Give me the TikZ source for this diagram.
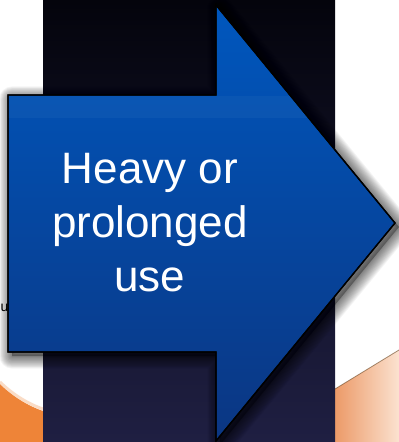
\documentclass[tikz,border=0pt]{standalone}
\usepackage{fontspec}
\setmainfont{Liberation Sans}
\definecolor{darktop}{HTML}{04040C}
\definecolor{darkbot}{HTML}{1F1F42}
\definecolor{arrowtop}{HTML}{0057BE}
\definecolor{arrowbot}{HTML}{0B3682}
\definecolor{orangeL}{HTML}{EE8438}
\definecolor{peachA}{HTML}{EC9A68}
\definecolor{peachB}{HTML}{FBE2D0}
\tikzset{
  arrowbody/.style={draw=black, line width=1.3pt, line join=miter, top color=arrowtop, bottom color=arrowbot},
  shadowring/.style={black, opacity=0.045, line join=round},
  labeltext/.style={text=white, align=center, font=\fontsize{44}{54}\selectfont, inner sep=0pt}
}
\def\arrowpath{(8,95) -- (216,95) -- (216,5) -- (395,223) -- (216,441) -- (216,352) -- (8,352) -- cycle}
\begin{document}
\begin{tikzpicture}[x=1pt,y=-1pt]
\useasboundingbox (0,0) rectangle (399,442);
\clip (0,0) rectangle (399,442);
\fill[white] (0,0) rectangle (399,442);
% bottom-left orange
\fill[orangeL] (0,384) .. controls (12,396) and (28,406) .. (43,411) -- (43,442) -- (0,442) -- cycle;
\draw[orangeL!40!white, line width=3pt, opacity=0.7] (0,382) .. controls (12,394) and (28,404) .. (43,409);
% bottom-right peach
\shade[left color=peachA, right color=peachB] (335,389) -- (399,350) -- (399,442) -- (335,442) -- cycle;
\draw[color=black!45!brown, opacity=0.6, line width=0.8pt] (335,389) -- (399,350);
% dark panel
\shade[top color=darktop, bottom color=darkbot] (43,0) rectangle (335,442);
% small fragment of text behind arrow
\node[font=\fontsize{14}{16}\selectfont, anchor=base west, inner sep=0pt] (frag) at (0.5,311) {u};
% shadow
\fill[black, opacity=0.3, shift={(4,4)}] \arrowpath;
\foreach \w in {1,...,14} {
  \draw[shadowring, line width=\w*1.8pt, shift={(4,4)}] \arrowpath;
}
% arrow
\draw[arrowbody] \arrowpath;
\begin{scope}
  \clip \arrowpath;
  \fill[white, opacity=0.035] (8,96) rectangle (330,118);
\end{scope}
\draw[black, line width=1.3pt, line join=miter] \arrowpath;
\node[labeltext] (label) at (150,223) {Heavy or\\prolonged\\use};
\end{tikzpicture}
\end{document}
